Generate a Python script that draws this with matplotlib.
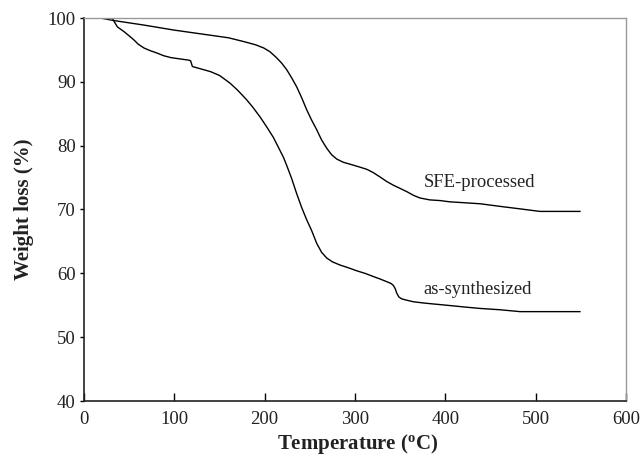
import matplotlib
matplotlib.use("Agg")
import matplotlib.pyplot as plt

plt.rcParams['font.family'] = ['Liberation Serif', 'DejaVu Serif']
plt.rcParams['mathtext.fontset'] = 'custom'
plt.rcParams['mathtext.rm'] = 'Liberation Serif'
plt.rcParams['mathtext.bf'] = 'Liberation Serif:bold'

# SFE-processed curve
sfe_T = [18, 33, 66, 100, 120, 140, 160, 177, 190, 199, 206, 213, 219, 224.4, 230, 235.5,
         241, 246.6, 252, 257.6, 263, 268.7, 274, 279.8, 287, 294.5, 304, 313, 320, 327.7,
         335, 342.5, 350, 357.3, 365, 372, 383, 394.2, 405, 416.4, 438.5, 460, 482.7,
         504.8, 525, 549]
sfe_W = [100, 99.6, 98.9, 98.1, 97.7, 97.3, 96.9, 96.3, 95.8, 95.3, 94.7, 93.8, 92.9, 91.9,
         90.6, 89.2, 87.5, 85.6, 84.0, 82.5, 80.9, 79.6, 78.6, 77.9, 77.4, 77.1, 76.7, 76.3,
         75.8, 75.1, 74.4, 73.8, 73.3, 72.8, 72.2, 71.8, 71.5, 71.4, 71.2, 71.1, 70.9, 70.5,
         70.1, 69.7, 69.7, 69.7]

# as-synthesized curve
as_T = [18, 31, 37, 44, 50, 55, 60, 66.4, 73, 81, 88, 96, 110.7, 116, 118, 120, 130, 140,
        150, 161.6, 170, 180, 187, 194.9, 202, 209.6, 215, 220.7, 224.4, 230, 235.4, 241,
        246.5, 252, 257.6, 263, 268.7, 275, 283.4, 292, 301.9, 311, 320.3, 328, 335, 340,
        342.5, 344.5, 346.2, 348.5, 351.7, 357, 364.6, 376, 386.8, 398, 408.9, 423, 438.5,
        460, 482.7, 515, 549]
as_W = [100, 100, 98.6, 97.9, 97.2, 96.6, 95.9, 95.3, 94.9, 94.5, 94.1, 93.8, 93.5, 93.4,
        93.3, 92.4, 92.0, 91.6, 91.0, 89.8, 88.7, 87.2, 86.0, 84.5, 83.0, 81.3, 79.8, 78.2,
        76.9, 74.8, 72.5, 70.3, 68.4, 66.7, 64.7, 63.3, 62.4, 61.8, 61.3, 60.9, 60.4, 60.0,
        59.5, 59.1, 58.7, 58.4, 58.1, 57.6, 56.9, 56.3, 56.0, 55.8, 55.55, 55.35, 55.2,
        55.05, 54.9, 54.7, 54.5, 54.3, 54.0, 54.0, 54.0]

xticks = [0, 100, 200, 300, 400, 500, 600]
yticks = [40, 50, 60, 70, 80, 90, 100]

fig = plt.figure(figsize=(6.41, 4.55), dpi=100)
ax = fig.add_axes([84/641, 1 - 401/455, (626-84)/641, (401-18)/455])

ax.plot(sfe_T, sfe_W, color='black', lw=1.0)
ax.plot(as_T, as_W, color='black', lw=1.0)

ax.set_xlim(0, 600)
ax.set_ylim(40, 100)
ax.set_xticks(xticks)
ax.set_yticks(yticks)

txtc = '#222222'
ax.tick_params(axis='x', direction='in', length=6, width=1, labelsize=13.5, colors='black', labelcolor=txtc, pad=7)
ax.tick_params(axis='y', direction='out', length=3, width=1, labelsize=13.5, colors='black', labelcolor=txtc, pad=3)

for s in ['left', 'bottom']:
    ax.spines[s].set_color('#222222')
    ax.spines[s].set_linewidth(1.2)
for s in ['top', 'right']:
    ax.spines[s].set_color('#999999')
    ax.spines[s].set_linewidth(1.0)

ax.text(438, 74.2, 'SFE-processed', ha='center', va='center', fontsize=13.4, color=txtc)
ax.text(436, 57.5, 'as-synthesized', ha='center', va='center', fontsize=13.4, color=txtc)

fig.text(357.5/641, 1 - 449.5/455, r'Temperature ($\mathbf{^{o}}$C)', fontsize=15,
         fontweight='bold', color=txtc, ha='center', va='baseline')
ax.set_ylabel('Weight loss (%)', fontsize=15, fontweight='bold', color=txtc, labelpad=10)

fig.savefig('out.png', dpi=100)
